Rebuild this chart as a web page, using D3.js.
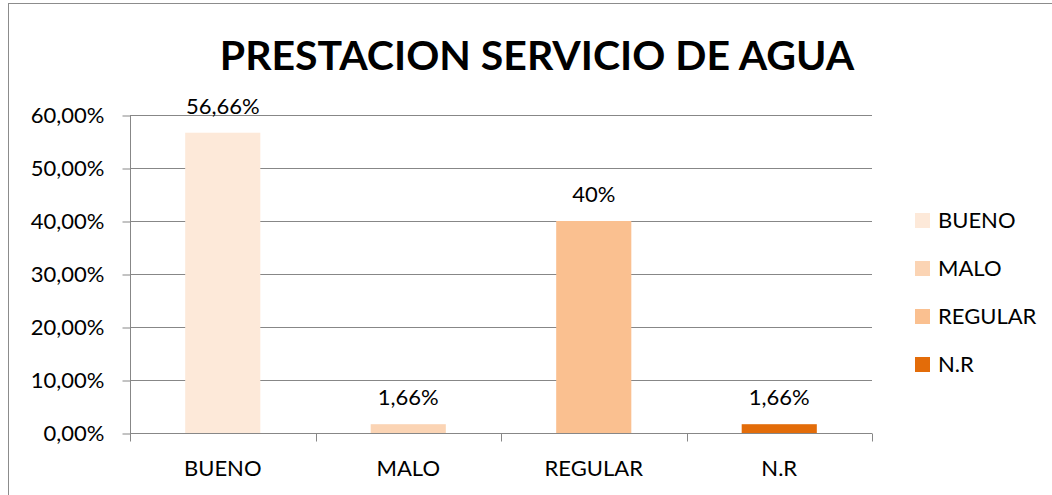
<!DOCTYPE html>
<html>
<head>
<meta charset="utf-8">
<script src="https://cdn.jsdelivr.net/npm/d3@7"></script>
<style>
  body { margin: 0; background: #fff; }
  svg { display: block; font-family: Lato, 'Open Sans', sans-serif; }
</style>
</head>
<body>
<svg id="chart" width="1052" height="495"></svg>
<script>
// data
let categories = ['BUENO', 'MALO', 'REGULAR', 'N.R'];
let values = [0.5666, 0.0166, 0.40, 0.0166];
let valueLabels = ['56,66%', '1,66%', '40%', '1,66%'];
let colors = ['#FDE9D9', '#FBD4B4', '#FAC090', '#E36C09'];
let yTicks = [0, 0.1, 0.2, 0.3, 0.4, 0.5, 0.6];

let svg = d3.select('#chart');
let axisColor = '#878787';

// outer frame (only top and left are visible in the picture)
svg.append('rect')
	.attr('x', 8.5)
	.attr('y', 3.5)
	.attr('width', 1100)
	.attr('height', 600)
	.attr('fill', 'none')
	.attr('stroke', '#8c8c8c')
	.attr('stroke-width', 1);

let plot = {left: 130, right: 872, top: 115, bottom: 433};

let x = d3.scaleBand()
	.domain(categories)
	.range([plot.left, plot.right])
	.paddingInner(0.595)
	.paddingOuter(0.2975);

let y = d3.scaleLinear()
	.domain([0, 0.6])
	.range([plot.bottom, plot.top]);

// gridlines
svg.append('g').selectAll('line')
	.data(yTicks.slice(1))
	.enter().append('line')
	.attr('x1', plot.left)
	.attr('x2', plot.right)
	.attr('y1', d => Math.round(y(d)) + 0.5)
	.attr('y2', d => Math.round(y(d)) + 0.5)
	.attr('stroke', axisColor)
	.attr('stroke-width', 1);

// bars
svg.append('g').selectAll('rect')
	.data(categories)
	.enter().append('rect')
	.attr('x', d => x(d))
	.attr('y', (d, i) => y(values[i]))
	.attr('width', x.bandwidth())
	.attr('height', (d, i) => plot.bottom - y(values[i]))
	.attr('fill', (d, i) => colors[i]);

// y axis
let yAxis = svg.append('g')
	.attr('transform', 'translate(' + (plot.left + 0.5) + ',0.5)')
	.call(d3.axisLeft(y).tickValues(yTicks).tickSize(8).tickPadding(18)
		.tickFormat(d => d3.format('.2f')(d * 100).replace('.', ',') + '%'));
yAxis.select('.domain').attr('stroke', axisColor).attr('d', 'M0,' + (plot.bottom) + 'V' + plot.top);
yAxis.selectAll('.tick line').attr('stroke', axisColor);
yAxis.selectAll('.tick text')
	.attr('font-size', 22)
	.attr('font-family', 'Lato')
	.attr('fill', '#000');

// x axis with ticks on band edges
let xAxis = svg.append('g')
	.attr('transform', 'translate(0,' + (plot.bottom + 0.5) + ')');
xAxis.append('line')
	.attr('x1', plot.left)
	.attr('x2', plot.right)
	.attr('stroke', axisColor);
let edges = [plot.left].concat(categories.map(c => x(c) + x.bandwidth() / 2 + x.step() / 2));
xAxis.selectAll('.edge-tick')
	.data(edges)
	.enter().append('line')
	.attr('class', 'edge-tick')
	.attr('x1', d => Math.round(d) + 0.5)
	.attr('x2', d => Math.round(d) + 0.5)
	.attr('y1', 0)
	.attr('y2', 8)
	.attr('stroke', axisColor);
xAxis.selectAll('text')
	.data(categories)
	.enter().append('text')
	.attr('x', d => x(d) + x.bandwidth() / 2)
	.attr('y', 42)
	.attr('text-anchor', 'middle')
	.attr('font-size', 22)
	.text(d => d);

// value labels
svg.append('g').selectAll('text')
	.data(categories)
	.enter().append('text')
	.attr('x', d => x(d) + x.bandwidth() / 2)
	.attr('y', (d, i) => y(values[i]) - 19)
	.attr('text-anchor', 'middle')
	.attr('font-size', 22)
	.text((d, i) => valueLabels[i]);

// title
svg.append('text')
	.attr('x', 537)
	.attr('y', 70)
	.attr('text-anchor', 'middle')
	.attr('font-size', 41)
	.attr('font-weight', 'bold')
	.text('PRESTACION SERVICIO DE AGUA');

// legend
let legendX = 915, legendY = 213;
categories.forEach(function(c, i) {
	let group = svg.append('g');
	group.append('rect')
		.attr('x', legendX)
		.attr('y', legendY + i * 48)
		.attr('width', 15)
		.attr('height', 15)
		.attr('fill', colors[i]);
	group.append('text')
		.attr('x', legendX + 23)
		.attr('y', legendY + i * 48 + 15)
		.attr('font-size', 22)
		.text(c);
});
</script>
</body>
</html>
